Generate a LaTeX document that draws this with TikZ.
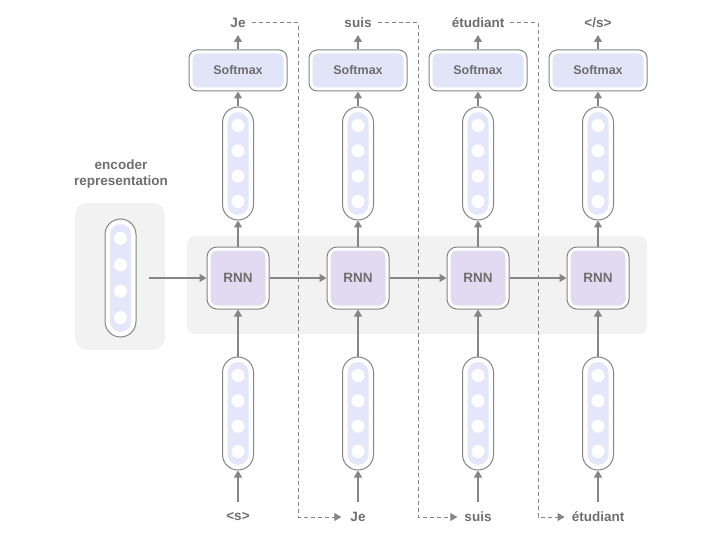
\documentclass[tikz,border=0pt]{standalone}
\usepackage{fontspec}
\setmainfont{Liberation Sans}
\usetikzlibrary{arrows.meta,calc}
\definecolor{linegray}{HTML}{858585}
\definecolor{txtgray}{HTML}{6E6E6E}
\definecolor{smblue}{HTML}{E1E5F7}
\definecolor{rnnpurple}{HTML}{E2DAF0}
\definecolor{vecblue}{HTML}{E3E7F9}
\definecolor{bandgray}{HTML}{F2F2F2}
\tikzset{
  conn/.style={draw=linegray, line width=1.1pt, -{Triangle[length=7pt,width=8pt]}},
  dashconn/.style={draw=linegray, line width=1pt, dash pattern=on 4pt off 3pt, -{Triangle[length=7pt,width=8pt]}},
  lbl/.style={text=txtgray, font=\bfseries\fontsize{13.5}{16}\selectfont, inner sep=0pt},
  smbox/.style={draw=linegray, line width=1pt, fill=white, rounded corners=8pt,
    minimum width=98pt, minimum height=41pt, inner sep=0pt, text=txtgray,
    font=\bfseries\fontsize{12.5}{14}\selectfont,
    path picture={\fill[smblue, rounded corners=6pt]
      ([shift={(3.5pt,3.5pt)}]path picture bounding box.south west) rectangle
      ([shift={(-3.5pt,-3.5pt)}]path picture bounding box.north east);}},
  rnnbox/.style={draw=linegray, line width=1pt, fill=white, rounded corners=10pt,
    minimum width=62pt, minimum height=62pt, inner sep=0pt, text=txtgray,
    font=\bfseries\fontsize{13.5}{16}\selectfont,
    path picture={\fill[rnnpurple, rounded corners=7pt]
      ([shift={(3.5pt,3.5pt)}]path picture bounding box.south west) rectangle
      ([shift={(-3.5pt,-3.5pt)}]path picture bounding box.north east);}},
  vecpill/.style={draw=linegray, line width=1pt, fill=white, rounded corners=15.5pt,
    minimum width=31pt, minimum height=#1, inner sep=0pt,
    path picture={
      \fill[vecblue, rounded corners=10.5pt]
        ([shift={(5pt,5pt)}]path picture bounding box.south west) rectangle
        ([shift={(-5pt,-5pt)}]path picture bounding box.north east);
      \foreach \k in {-1.5,-0.5,0.5,1.5}
        \fill[white] ($(path picture bounding box.center)+(0pt,{\k*0.224*#1})$) circle (6.5pt);
    }},
  bgbox/.style={fill=bandgray, draw=none}
}
\begin{document}
\begin{tikzpicture}[x=1pt,y=-1pt]
\useasboundingbox (0,0) rectangle (720,540);
% backgrounds
\fill[bgbox, rounded corners=12pt] (75,203) rectangle (165,350);
\fill[bgbox, rounded corners=8pt] (187,236) rectangle (647,334);
% encoder
\node[lbl, align=center] (enclbl) at (121,174.5) {encoder\\representation};
\node[vecpill=118pt] (encvec) at (120.5,278) {};
\coordinate (encout) at (149,278);
% columns
\foreach \i/\x/\top/\bot in {1/238/Je/{<s>}, 2/358/suis/Je, 3/478/étudiant/suis, 4/598/{</s>}/étudiant}{
  \node[lbl] (t\i) at (\x,23) {\top};
  \coordinate (e\i) at (\x,35);
  \node[smbox] (sm\i) at (\x,70.5) {Softmax};
  \node[vecpill=113pt] (uv\i) at (\x,163.5) {};
  \node[rnnbox] (rnn\i) at (\x,278) {RNN};
  \node[vecpill=113pt] (lv\i) at (\x,413.5) {};
  \coordinate (s\i) at (\x,502);
  \node[lbl] (b\i) at (\x,517) {\bot};
  \draw[conn] (sm\i.north) -- (e\i);
  \draw[conn] (uv\i.north) -- (sm\i.south);
  \draw[conn] (rnn\i.north) -- (uv\i.south);
  \draw[conn] (lv\i.north) -- (rnn\i.south);
  \draw[conn] (s\i) -- (lv\i.south);
}
% horizontal connections
\draw[conn] (encout) -- (rnn1.west);
\draw[conn] (rnn1.east) -- (rnn2.west);
\draw[conn] (rnn2.east) -- (rnn3.west);
\draw[conn] (rnn3.east) -- (rnn4.west);
% feedback dashed lines
\coordinate (d1) at (298,517);
\coordinate (d2) at (418,517);
\coordinate (d3) at (538,517);
\draw[dashconn] ([xshift=6pt]t1.east) -| (d1) -- ([xshift=-9pt]b2.west |- d1);
\draw[dashconn] ([xshift=6pt]t2.east) -| (d2) -- ([xshift=-7pt]b3.west |- d2);
\draw[dashconn] ([xshift=6pt]t3.east) -| (d3) -- ([xshift=-7pt]b4.west |- d3);
\end{tikzpicture}
\end{document}
